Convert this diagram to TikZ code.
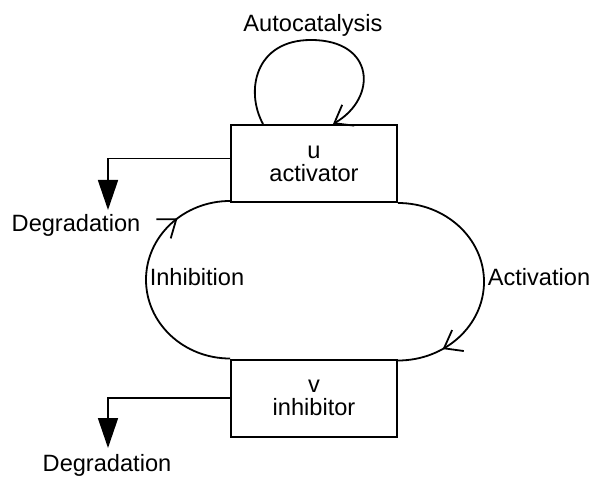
\documentclass[tikz,border=0pt]{standalone}
\usepackage{fontspec}
\setmainfont{Liberation Sans}
\usetikzlibrary{positioning}
\usetikzlibrary{arrows.meta,decorations.markings}

\tikzset{
  species/.style={draw, line width=1pt, minimum width=83pt, minimum height=38.5pt,
    align=center, inner sep=0pt, font=\fontsize{11.8}{11.5}\selectfont},
  lbl/.style={inner sep=0pt, font=\fontsize{11.8}{14}\selectfont},
  link/.style={line width=0.9pt},
  barb/.style={-{Straight Barb[length=8pt,width=12pt,line width=0.9pt]}},
  midbarb/.style={postaction={decorate}, decoration={markings,
      mark=at position #1 with {\arrow{Straight Barb[length=8pt,width=12pt,line width=0.9pt]}}}},
  decay/.style={-{Triangle[length=15pt,width=10pt]}}
}

\begin{document}
\begin{tikzpicture}[x=0.5pt,y=0.5pt]
      \useasboundingbox (0,0) rectangle (592,476);
      % the two species
      \node[species] (act) at (314,312.5) {u\\activator};
      \node[species] (inh) at (314,78) {v\\inhibitor};
      % labels
      \node[lbl] (auto) at (313,451) {Autocatalysis};
      \node[lbl] (degA) at (76,251) {Degradation};
      \node[lbl] (degB) at (107,11) {Degradation};
      \node[lbl] (inhib) at (197,199) {Inhibition};
      \node[lbl] (activ) at (539,199) {Activation};
      \coordinate (tipA) at (108,266);
      \coordinate (tipB) at (108,28);
      % autocatalysis loop
      \draw[link,barb] ([xshift=-25.5pt]act.north) .. controls (245,385) and (255,436) .. (311,436)
            .. controls (375,436) and (378,378) .. ([xshift=9.5pt]act.north);
      % degradation
      \draw[link,decay] ([yshift=2.5pt]act.west) -| (tipA);
      \draw[link,decay] (inh.west) -| (tipB);
      % the feedback loop
      \draw[link,midbarb=0.78] (inh.north west) arc[start angle=270, end angle=90, x radius=84, y radius=78.75];
      \draw[link,midbarb=0.82] (act.south east) arc[start angle=90, end angle=-90, x radius=86, y radius=78.75];
    \end{tikzpicture}
\end{document}
